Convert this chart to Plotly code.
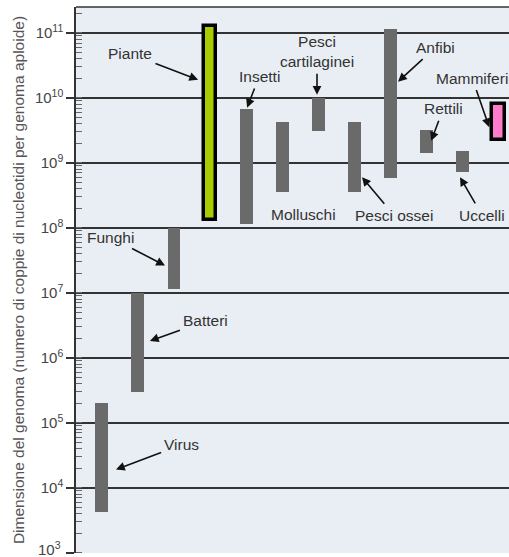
import plotly.graph_objects as go

# Data: genome size ranges (base pairs per haploid genome)
groups = ["Virus", "Batteri", "Funghi", "Piante", "Insetti", "Molluschi",
          "Pesci cartilaginei", "Pesci ossei", "Anfibi", "Rettili", "Uccelli", "Mammiferi"]
low = [4.2e3, 3.0e5, 1.15e7, 1.3e8, 1.15e8, 3.6e8, 3.1e9, 3.6e8, 5.9e8, 1.4e9, 7.3e8, 2.25e9]
high = [2.0e5, 1.0e7, 1.0e8, 1.3e11, 6.8e9, 4.2e9, 1.0e10, 4.2e9, 1.15e11, 3.2e9, 1.5e9, 8.1e9]
fill_colors = ["#6a6a6a"] * 3 + ["#a8cc00"] + ["#6a6a6a"] * 7 + ["#ff7ccc"]
outline_w = [0, 0, 0, 3.5, 0, 0, 0, 0, 0, 0, 0, 3.5]

tick_vals = [1e3, 1e4, 1e5, 1e6, 1e7, 1e8, 1e9, 1e10, 1e11]
tick_text = ["", "10<sup>4</sup>", "10<sup>5</sup>", "10<sup>6</sup>", "10<sup>7</sup>",
             "10<sup>8</sup>", "10<sup>9</sup>", "10<sup>10</sup>", "10<sup>11</sup>"]
bottom_tick_text = "10<sup>3</sup>"

# label text, arrow head (x index, log10 y), text offset (px)
labels = [
    ("Piante", 2.67, 10.28, -68, -26),
    ("Insetti", 4.03, 9.85, 12, -31),
    ("Funghi", 1.75, 7.42, -54, -28),
    ("Batteri", 1.33, 6.26, 56, -20),
    ("Virus", 0.39, 4.28, 66, -25),
    ("Pesci<br>cartilaginei", 5.97, 10.05, 0, -43),
    ("Anfibi", 8.22, 10.25, 37, -34),
    ("Mammiferi", 10.75, 9.55, -17, -49),
    ("Rettili", 9.14, 9.34, 12, -32),
    ("Molluschi", 5.28, 8.74, 11, 35),
    ("Pesci ossei", 7.22, 8.78, 32, 38),
    ("Uccelli", 9.94, 8.78, 22, 38),
]

xpos = list(range(len(groups)))
fig = go.Figure()
fig.add_trace(go.Bar(
    x=xpos,
    y=[h - l for h, l in zip(high, low)],
    base=low,
    width=0.36,
    marker=dict(color=fill_colors, line=dict(color="black", width=outline_w)),
    hoverinfo="skip",
))

for text, hx, hy, ax, ay in labels:
    fig.add_annotation(
        x=hx, y=hy, xref="x", yref="y", text=text, showarrow=True,
        ax=ax, ay=ay, arrowhead=2, arrowsize=1.1, arrowwidth=1.6, arrowcolor="#111",
        font=dict(family="Liberation Sans, Arial, sans-serif", size=15.5, color="#333"),
        standoff=0, startstandoff=2,
    )

# bottom tick label (drawn as text so it is not dropped at the figure edge)
fig.add_annotation(
    x=0, xref="paper", xanchor="right", xshift=-13,
    y=3, yref="y", yanchor="middle", yshift=4,
    text=bottom_tick_text, showarrow=False,
    font=dict(family="Liberation Sans, Arial, sans-serif", size=15, color="#444"),
)

fig.add_shape(type="line", xref="paper", yref="paper", x0=0, x1=1, y0=1, y1=1,
              line=dict(color="#333", width=1.5))

fig.update_layout(
    width=509, height=557,
    margin=dict(l=76, r=0, t=7, b=4, autoexpand=False),
    paper_bgcolor="white",
    plot_bgcolor="#e9eef4",
    showlegend=False,
    bargap=0,
    font=dict(family="Liberation Sans, Arial, sans-serif", color="#444"),
)
fig.update_xaxes(range=[-0.72, 11.3], showticklabels=False, showgrid=False,
                 zeroline=False, showline=False, ticks="", automargin=False)
fig.update_yaxes(
    type="log", range=[2.995, 11.4], automargin=False,
    tickvals=tick_vals, ticktext=tick_text,
    tickfont=dict(size=15, color="#444"),
    showgrid=True, gridcolor="#333", gridwidth=1.5,
    ticks="outside", ticklen=8, tickcolor="#333", tickwidth=1.5,
    showline=True, linecolor="#333", linewidth=1.5,
    zeroline=False,
    minor=dict(ticks="inside", ticklen=6, tickcolor="#666", tickwidth=1, showgrid=False, dtick="D1"),
    title=dict(text="Dimensione del genoma (numero di coppie di nucleotidi per genoma aploide)",
               font=dict(size=15.5, color="#555"), standoff=6),
)

fig.write_html(
    "out.html",
    config={"displayModeBar": False},
    post_script="document.body.style.margin='0';document.body.style.overflow='hidden';",
)
